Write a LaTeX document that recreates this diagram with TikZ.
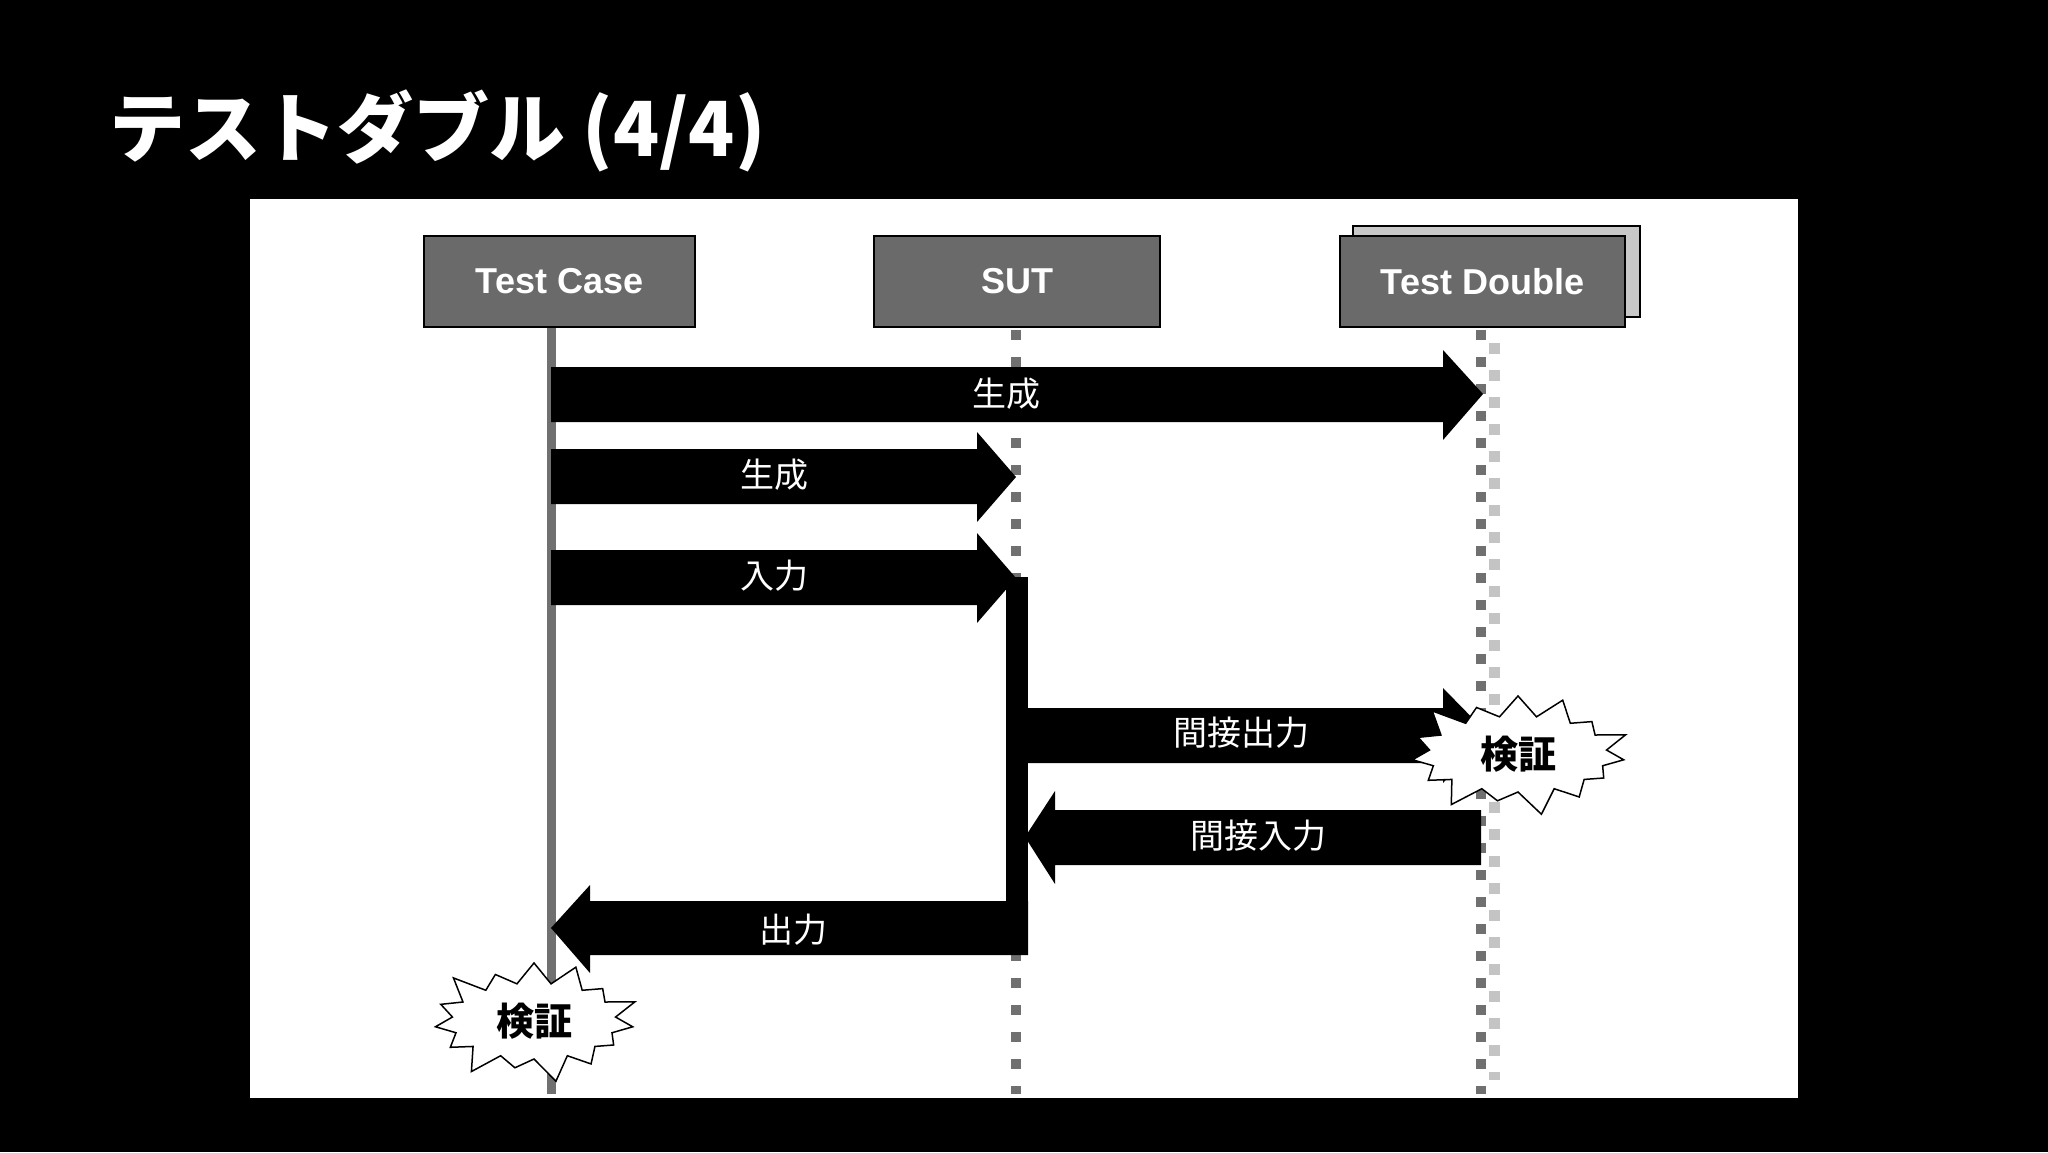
\documentclass[tikz,border=0pt]{standalone}
\usepackage{fontspec}
\setmainfont{Liberation Sans}
\newfontfamily\cjk{Noto Sans CJK JP}
\usetikzlibrary{shapes.symbols}
\definecolor{boxgray}{HTML}{6A6A6A}
\definecolor{shadowgray}{HTML}{C8C8C8}
\definecolor{linegray}{HTML}{707070}
\definecolor{lightsq}{HTML}{C4C4C4}
\tikzset{
 actor/.style={draw=black,line width=2pt,fill=boxgray,text=white,font=\fontsize{36}{40}\selectfont\bfseries,minimum height=91pt,inner sep=0pt},
 fat/.style={fill=black},
 lbl/.style={text=white,font=\cjk\fontsize{34}{38}\selectfont},
 burst/.style={starburst,starburst points=15,starburst point height=28pt,draw=black,line width=1.5pt,fill=white,font=\cjk\bfseries\fontsize{38}{42}\selectfont,inner sep=0pt},
}
\begin{document}
\begin{tikzpicture}[x=1pt,y=-1pt]
\fill[black] (0,0) rectangle (2048,1152);
\useasboundingbox (0,0) rectangle (2048,1152);
\node[anchor=west,text=white,font=\cjk\bfseries\fontsize{76}{80}\selectfont] (title) at (106,131) {テストダブル (4/4)};
\fill[white] (250,199) rectangle (1798,1098);
% lifelines
\draw[linegray,line width=9pt] (551,327) -- (551,1094);
\draw[linegray,line width=10pt,dash pattern=on 10pt off 17pt] (1016,330) -- (1016,1094);
\draw[lightsq,line width=11pt,dash pattern=on 11pt off 16pt] (1494,343) -- (1494,1080);
\draw[linegray,line width=10pt,dash pattern=on 10pt off 17pt] (1481,330) -- (1481,1094);
% actors
\node[actor,minimum width=271pt] (tc) at (559.5,281.5) {Test Case};
\node[actor,minimum width=286pt] (sut) at (1017,281.5) {SUT};
\node[draw=black,line width=2pt,fill=shadowgray,minimum width=287pt,minimum height=91pt] (tdsh) at (1496.5,271.5) {};
\node[actor,minimum width=285pt] (td) at (1482.5,281.5) {Test Double};
% activation bar
\fill[black] (1006,577) rectangle (1028,955);
% arrows
\fill[fat] (551,367) -- (1443,367) -- (1443,350) -- (1483,394) -- (1443,440) -- (1443,422) -- (551,422) -- cycle;
\node[lbl] (a1) at (1006,394) {生成};
\fill[fat] (551,449) -- (977,449) -- (977,432) -- (1016,477) -- (977,522) -- (977,504) -- (551,504) -- cycle;
\node[lbl] (a2) at (774,475) {生成};
\fill[fat] (551,550) -- (977,550) -- (977,533) -- (1016,578) -- (977,623) -- (977,605) -- (551,605) -- cycle;
\node[lbl] (a3) at (774,576) {入力};
\fill[fat] (1028,708) -- (1443,708) -- (1443,688) -- (1489,735) -- (1443,783) -- (1443,763) -- (1028,763) -- cycle;
\node[lbl] (a4) at (1241,733) {間接出力};
\fill[fat] (1481,810) -- (1055,810) -- (1055,791) -- (1025,837) -- (1055,884) -- (1055,865) -- (1481,865) -- cycle;
\node[lbl] (a5) at (1258,836) {間接入力};
\fill[fat] (1028,901) -- (590,901) -- (590,885) -- (551,928) -- (590,973) -- (590,955) -- (1028,955) -- cycle;
\node[lbl] (a6) at (793,930) {出力};
% bursts
\node[burst,minimum width=234pt,minimum height=132pt] (v1) at (1518,754) {検証};
\node[burst,minimum width=220pt,minimum height=132pt] (v2) at (534,1021) {検証};
\end{tikzpicture}
\end{document}
